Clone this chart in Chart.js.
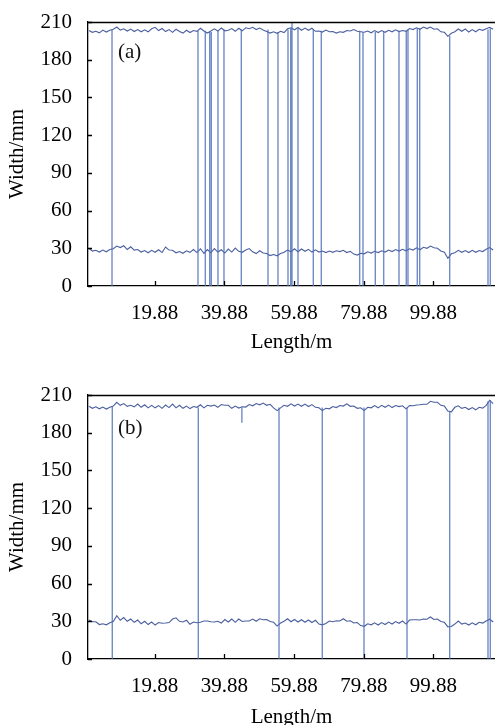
<!DOCTYPE html>
<html><head><meta charset="utf-8">
<script src="https://cdn.jsdelivr.net/npm/chart.js@4.4.0/dist/chart.umd.min.js"></script>
<style>
html,body{margin:0;padding:0;background:#fff;overflow:hidden;}
#wrap{position:relative;width:495px;height:725px;overflow:hidden;}
canvas{position:absolute;left:0;}
#chartA{top:0;}
#chartB{top:373px;}
.tag{position:absolute;font-family:"Liberation Serif","Times New Roman",serif;font-size:21px;line-height:21px;color:#111;}
</style></head>
<body><div id="wrap">
<canvas id="chartA" width="495" height="362"></canvas>
<canvas id="chartB" width="495" height="362"></canvas>
<div class="tag" style="left:118px;top:41px;">(a)</div>
<div class="tag" style="left:118px;top:417px;">(b)</div>
</div>
<script>
// ---- data ----
const lengthM = [];
for (let i = 1; i <= 117; i++) lengthM.push(i);
const xTickLabels = [19.88, 39.88, 59.88, 79.88, 99.88];
const yTickStep = 30;

const topA = [203.2,201.8,202.6,201.4,203.6,202.0,203.4,204.2,206.0,203.6,
204.6,202.8,204.4,202.4,204.0,202.2,203.8,202.2,204.6,205.8,
203.2,204.8,202.4,204.0,201.8,204.2,202.4,201.2,203.4,201.6,
203.2,202.6,205.0,202.8,201.2,202.8,204.6,202.8,205.2,203.0,
203.4,204.8,202.6,205.0,203.0,205.4,204.6,205.8,204.0,205.2,
203.6,202.4,201.2,202.2,201.0,202.6,201.6,204.6,205.4,203.8,
205.6,203.4,205.2,203.4,205.0,202.6,202.8,202.0,203.6,202.2,
202.4,201.2,202.2,201.8,203.2,202.8,204.0,202.6,202.2,201.8,
202.8,201.4,203.2,201.6,203.2,201.8,203.4,202.2,203.8,202.4,
203.2,202.6,204.8,204.0,205.4,204.2,206.0,204.8,206.0,204.2,
204.6,202.2,201.8,198.6,201.0,202.2,204.4,202.6,204.4,202.0,
204.0,202.2,204.2,203.4,204.6,205.8,204.2];
const bottomA = [30.0,27.8,28.4,27.0,28.6,27.2,29.0,29.6,31.8,30.6,
32.0,29.0,31.2,28.6,29.0,27.0,28.2,26.4,28.4,26.8,
28.8,26.6,31.0,28.6,28.4,26.4,27.4,26.0,28.0,26.8,
29.0,26.6,29.6,26.0,29.0,26.4,29.8,27.0,28.8,26.2,
29.4,27.0,30.2,27.6,26.8,28.6,29.8,27.2,25.8,28.0,
26.2,25.8,24.2,25.0,24.0,25.8,26.8,28.6,27.2,29.6,
27.2,29.4,27.6,29.2,27.0,28.8,27.0,27.8,26.6,27.8,
26.8,28.0,27.4,28.4,26.6,27.6,25.4,24.6,26.0,25.6,
27.2,26.2,27.6,26.6,28.0,27.0,28.6,27.4,29.0,27.8,
29.2,28.0,29.6,28.6,30.4,28.8,30.8,30.0,31.8,30.4,
30.0,27.8,26.8,22.0,25.6,26.4,28.4,26.8,28.2,26.6,
28.4,26.8,28.2,27.4,29.2,30.6,28.6];
const spikeXA = [7.63,32.30,34.40,35.66,36.12,38.04,39.76,44.73,52.39,55.26,
58.13,58.90,59.28,61.00,65.39,67.68,78.70,79.65,83.18,85.59,
89.98,92.07,92.56,95.23,95.92,104.53,115.52,116.18];
const spikeTopA = [204,203,203,202,202,203,204,204,204,202,
204,205,210,205,204,203,203,202,202,202,
203,203,204,205,205,199,204,205];
const spikeBottomA = spikeXA.map(() => 0);

const topB = [201.0,199.4,200.6,199.0,200.4,198.8,200.2,201.2,204.2,201.8,
203.2,201.0,201.8,200.6,202.8,200.2,202.2,199.8,201.8,199.8,
201.6,199.4,202.0,200.0,202.8,199.8,201.8,199.4,201.2,199.2,
200.8,200.2,202.2,199.8,201.8,201.2,202.0,200.2,202.4,201.8,
201.8,199.4,201.2,199.6,200.6,200.4,202.4,201.4,203.2,202.2,
203.6,201.8,202.6,199.8,197.6,199.8,201.8,201.0,203.0,201.2,
202.8,201.0,202.8,200.8,202.4,200.2,199.8,197.6,199.4,199.0,
200.8,200.0,201.6,201.2,203.0,201.0,201.2,199.4,199.8,197.6,
200.2,199.8,201.6,199.8,201.8,200.2,202.0,200.0,201.6,200.8,
201.4,199.0,201.6,201.4,202.0,202.2,202.6,202.6,205.0,204.2,
204.2,201.8,201.2,197.2,196.6,200.2,201.4,199.4,200.2,198.4,
200.0,198.2,200.2,199.6,201.8,205.8,203.2];
const bottomB = [31.0,29.6,29.6,27.4,28.0,27.2,28.8,29.8,34.4,30.8,
33.0,30.0,31.8,29.2,31.0,28.0,30.0,27.4,29.4,27.0,
29.0,28.4,28.6,29.0,31.8,32.8,30.0,29.4,30.8,27.6,
29.4,28.8,29.2,30.2,30.2,29.6,29.4,30.0,28.6,31.4,
29.4,31.8,29.2,31.8,29.8,30.2,30.2,31.8,30.0,32.0,
31.2,31.4,29.8,29.2,26.2,28.6,30.0,32.0,29.6,31.4,
29.4,31.2,29.2,31.0,29.0,30.8,27.8,27.2,28.2,30.2,
29.6,30.4,30.2,32.0,30.0,30.4,28.6,29.0,26.6,26.0,
28.0,27.2,28.8,27.0,29.0,27.4,29.4,27.8,29.8,28.4,
30.2,27.8,31.0,31.2,31.2,31.0,31.8,31.6,33.4,31.4,
31.8,29.8,29.2,25.6,25.8,27.8,30.2,27.8,28.6,27.0,
28.8,27.2,29.2,28.6,30.2,31.6,29.4];
const spikeXB = [7.71,32.39,44.90,55.55,67.97,79.94,92.28,104.53,115.52,116.18];
const spikeTopB = [201,200,200,200,200,200,200,197,205,206];
const spikeBottomB = [0,0,188,0,0,0,0,0,0,0];

const X_MIN = 0.74, X_MAX = 117.53;
const FONT = {family: '"Liberation Serif","Times New Roman",serif', size: 21};

const innerTicks = {
  id: 'innerTicks',
  afterDraw(chart) {
    const {ctx, chartArea: a, scales: {x, y}} = chart;
    ctx.save();
    ctx.strokeStyle = '#000';
    ctx.lineWidth = 1.3;
    ctx.beginPath();
    x.ticks.forEach(t => {
      const px = Math.round(x.getPixelForValue(t.value)) + 0.5;
      ctx.moveTo(px, a.bottom); ctx.lineTo(px, a.bottom - 5);
    });
    y.ticks.forEach(t => {
      const py = Math.round(y.getPixelForValue(t.value)) + 0.5;
      ctx.moveTo(a.left, py); ctx.lineTo(a.left + 4, py);
    });
    ctx.stroke();
    ctx.lineWidth = 1.6;
    ctx.beginPath();
    ctx.moveTo(a.left, a.top + 0.5); ctx.lineTo(a.right, a.top + 0.5);
    ctx.stroke();
    ctx.restore();
  }
};

function makeChart(id, top, bottom, spX, spTop, spBot, titlePadBottom) {
  const topData = lengthM.map((x, i) => ({x, y: top[i]}));
  const botData = lengthM.map((x, i) => ({x, y: bottom[i]}));
  const spikeData = [];
  spX.forEach((x, i) => {
    spikeData.push({x, y: spTop[i]}, {x, y: spBot[i]}, {x, y: null});
  });
  new Chart(document.getElementById(id), {
    type: 'line',
    data: {datasets: [
      {data: spikeData, borderColor: 'rgba(78,110,185,0.8)', borderWidth: 1.4, pointRadius: 0, spanGaps: false, tension: 0},
      {data: topData, borderColor: '#4a5f9e', borderWidth: 1.1, pointRadius: 0, tension: 0},
      {data: botData, borderColor: '#4a5f9e', borderWidth: 1.1, pointRadius: 0, tension: 0}
    ]},
    options: {
      responsive: false, animation: false, devicePixelRatio: 1,
      layout: {padding: {top: 22, right: 0, left: 0, bottom: 0}},
      plugins: {legend: {display: false}, tooltip: {enabled: false}},
      scales: {
        x: {
          type: 'linear', min: X_MIN, max: X_MAX,
          afterBuildTicks: s => { s.ticks = xTickLabels.map(v => ({value: v})); },
          ticks: {font: FONT, color: '#000', padding: 15, maxRotation: 0, callback: v => Number(v).toFixed(2)},
          grid: {display: false, drawTicks: false},
          border: {display: true, color: '#000', width: 1.3},
          title: {display: true, text: 'Length/m', font: FONT, color: '#000', padding: {top: 0, bottom: titlePadBottom}},
          afterFit: s => { s.height = 76; }
        },
        y: {
          min: 0, max: 210,
          ticks: {stepSize: yTickStep, font: FONT, color: '#000', padding: 4},
          grid: {display: false, drawTicks: true, tickLength: 12},
          border: {display: true, color: '#000', width: 1.3},
          title: {display: true, text: 'Width/mm', font: FONT, color: '#000', padding: {top: 5, bottom: 0}},
          afterFit: s => { s.width = 88; }
        }
      }
    },
    plugins: [innerTicks]
  });
}

makeChart('chartA', topA, bottomA, spikeXA, spikeTopA, spikeBottomA, 7);
makeChart('chartB', topB, bottomB, spikeXB, spikeTopB, spikeBottomB, 5);
</script>
</body></html>
